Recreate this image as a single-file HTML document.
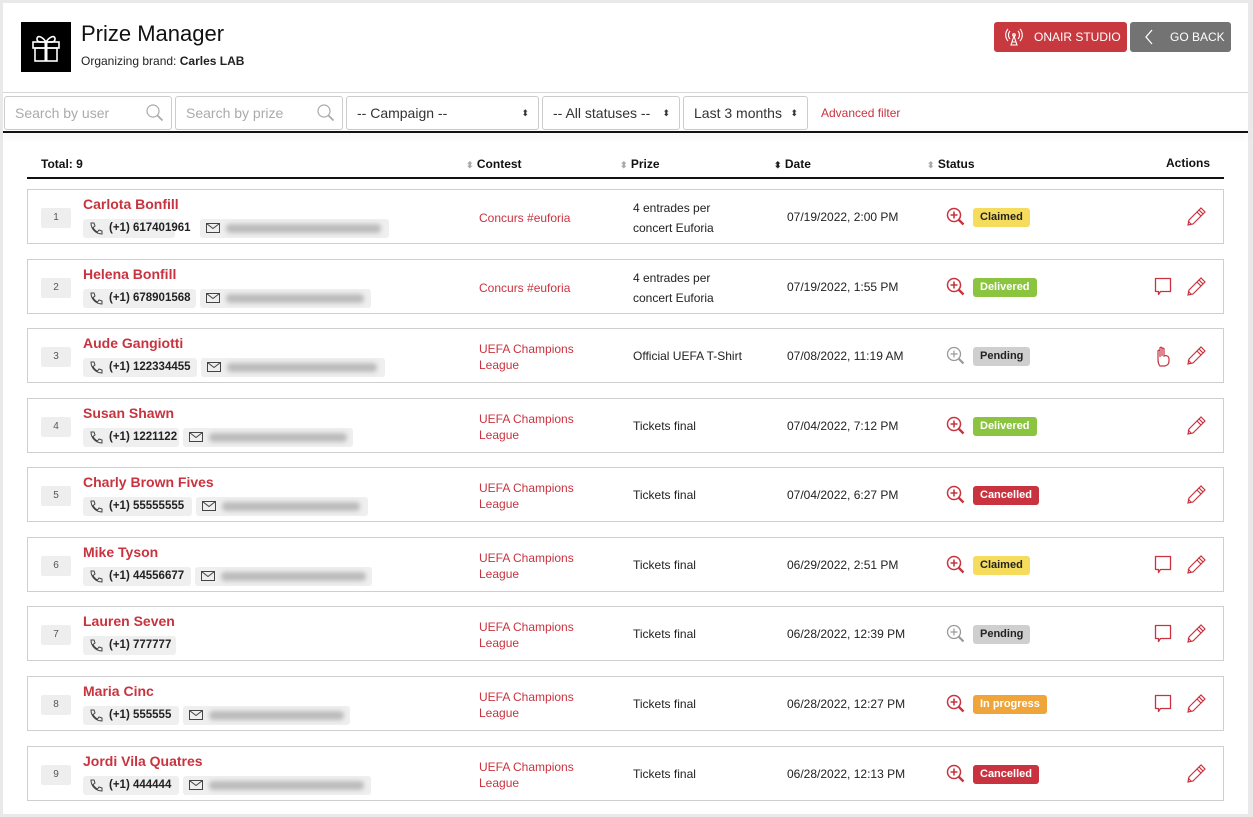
<!DOCTYPE html>
<html><head><meta charset="utf-8">
<style>
*{box-sizing:border-box;margin:0;padding:0}
body{width:1253px;height:817px;background:#e9e9e9;font-family:"Liberation Sans",sans-serif;position:relative;overflow:hidden;color:#222}
.page{position:absolute;left:3px;top:3px;width:1245px;height:811px;background:#fff}
.abs{position:absolute}
.row{position:absolute;left:27px;width:1197px;height:55px;border:1px solid #cfcfcf;background:#fff}
.num{position:absolute;left:13px;top:18px;width:30px;height:20px;background:#eee;border-radius:2px;font-size:10px;color:#555;text-align:center;line-height:20px}
.name{position:absolute;left:55px;top:6px;font-size:14px;font-weight:bold;color:#c8333f;white-space:nowrap}
.pill{position:absolute;top:29px;height:19px;background:#efefef;border-radius:3px;font-size:11.5px;font-weight:bold;line-height:19px;white-space:nowrap}
.pill svg{position:absolute;left:6px;top:3px}
.pill span{position:absolute;left:26px}
.blur{position:absolute;top:5px;height:9px;background:#bbb;filter:blur(2.5px);border-radius:4px}
.contest{position:absolute;left:451px;font-size:12px;color:#c8333f;line-height:16px}
.prize{position:absolute;left:605px;font-size:12px;color:#222;line-height:20px}
.date{position:absolute;left:759px;top:20px;font-size:12px;color:#222}
.mag{position:absolute;left:918px;top:17px}
.badge{position:absolute;left:945px;top:18px;height:19px;line-height:19px;padding:0 7px;border-radius:3px;font-size:11px;font-weight:bold}
.claimed{background:#f6dc5c;color:#222}
.deliv{background:#8bc43f;color:#fff}
.pend{background:#cfcfcf;color:#222}
.canc{background:#c8333f;color:#fff}
.prog{background:#f0a53a;color:#fff}
.pen{position:absolute;left:1157px;top:15px}
.cmt{position:absolute;left:1126px;top:17px}
.hdr{position:absolute;top:157px;font-size:12px;font-weight:bold;color:#111}
.sel{position:absolute;top:96px;height:34px;border:1px solid #ccc;border-radius:3px;font-size:14px;line-height:32px;padding-left:10px;color:#333}
.sel .ar{position:absolute;right:9px;top:0;font-size:9px}
</style></head><body>
<div class="page"></div>
<div class="abs" style="left:21px;top:22px;width:50px;height:50px;background:#000">
<svg width="50" height="50" viewBox="0 0 50 50"><g fill="none" stroke="#fff" stroke-width="1.6"><rect x="12" y="20" width="26" height="6"/><rect x="14" y="26" width="22" height="13"/><line x1="25" y1="20" x2="25" y2="39" stroke-width="3"/><path d="M25 20c-4-6-9-7-9-3s5 3 9 3c4 0 9 1 9-3s-5-3-9 3"/></g></svg></div>
<div class="abs" style="left:81px;top:21px;font-size:22px;color:#111">Prize Manager</div>
<div class="abs" style="left:81px;top:54px;font-size:12px;color:#222">Organizing brand: <b>Carles LAB</b></div>
<div class="abs" style="left:994px;top:22px;width:133px;height:30px;background:#c8393f;border-radius:3px;color:#fff;font-size:12px;line-height:30px;padding-left:40px">ONAIR STUDIO
<svg class="abs" style="left:10px;top:6px" width="20" height="18" viewBox="0 0 20 18"><g fill="none" stroke="#fff" stroke-width="1.1"><path d="M6 3a6 6 0 0 0 0 8M14 3a6 6 0 0 1 0 8M4 1a9 9 0 0 0 0 12M16 1a9 9 0 0 1 0 12"/><circle cx="10" cy="7" r="1.3"/><path d="M10 8l-3 9h6zM8 14h4"/></g></svg></div>
<div class="abs" style="left:1130px;top:22px;width:101px;height:30px;background:#737373;border-radius:3px;color:#fff;font-size:12px;line-height:30px;padding-left:40px">GO BACK
<svg class="abs" style="left:14px;top:7px" width="10" height="16"><path d="M8 1L2 8l6 7" fill="none" stroke="#fff" stroke-width="1.3"/></svg></div>
<div class="abs" style="left:3px;top:92px;width:1245px;height:1px;background:#d6d6d6"></div>
<div class="sel" style="left:4px;width:168px;color:#aaa">Search by user<svg class="abs" style="right:7px;top:7px" width="18" height="18"><circle cx="7" cy="7" r="6" fill="none" stroke="#aaa" stroke-width="1.2"/><path d="M11.5 11.5l5 5" stroke="#aaa" stroke-width="1.8"/></svg></div>
<div class="sel" style="left:175px;width:168px;color:#aaa">Search by prize<svg class="abs" style="right:7px;top:7px" width="18" height="18"><circle cx="7" cy="7" r="6" fill="none" stroke="#aaa" stroke-width="1.2"/><path d="M11.5 11.5l5 5" stroke="#aaa" stroke-width="1.8"/></svg></div>
<div class="sel" style="left:346px;width:193px">-- Campaign --<span class="ar">⬍</span></div>
<div class="sel" style="left:542px;width:138px">-- All statuses --<span class="ar">⬍</span></div>
<div class="sel" style="left:683px;width:125px">Last 3 months<span class="ar">⬍</span></div>
<div class="abs" style="left:821px;top:106px;font-size:12px;color:#c8333f">Advanced filter</div>
<div class="abs" style="left:3px;top:131px;width:1245px;height:2px;background:#111;box-shadow:0 3px 8px rgba(0,0,0,.12)"></div>
<div class="hdr" style="left:41px">Total: 9</div>
<div class="hdr" style="left:466px"><span style="color:#aaa;font-size:9px">⬍</span> Contest</div>
<div class="hdr" style="left:620px"><span style="color:#aaa;font-size:9px">⬍</span> Prize</div>
<div class="hdr" style="left:774px"><span style="color:#222;font-size:9px">⬍</span> Date</div>
<div class="hdr" style="left:927px"><span style="color:#aaa;font-size:9px">⬍</span> Status</div>
<div class="hdr" style="left:1166px;top:156px">Actions</div>
<div class="abs" style="left:27px;top:177px;width:1197px;height:2px;background:#111"></div>

<svg width="0" height="0" style="position:absolute">
<defs>
<g id="ph"><path d="M2 1l3 0 1 3-2 1.5c1 2 2.5 3.5 4.5 4.5L10 8l3 1 0 3c-6 0-11-5-11-11z" fill="none" stroke="#444" stroke-width="1"/></g>
<g id="ml"><rect x="0.5" y="1.5" width="13" height="9" fill="none" stroke="#444" stroke-width="1"/><path d="M0.5 1.5l6.5 5 6.5-5" fill="none" stroke="#444" stroke-width="1"/></g>
<g id="magr"><circle cx="8" cy="8" r="6.5" fill="none" stroke="#c8333f" stroke-width="1.5"/><path d="M8 4.5v7M4.5 8h7" stroke="#c8333f" stroke-width="1.6"/><path d="M12.5 12.5l5 5" stroke="#c8333f" stroke-width="2.4"/></g>
<g id="magg"><circle cx="8" cy="8" r="6.5" fill="none" stroke="#999" stroke-width="1.3"/><path d="M8 4.5v7M4.5 8h7" stroke="#999" stroke-width="1.2"/><path d="M12.5 12.5l5 5" stroke="#999" stroke-width="2.2"/></g>
<g id="pn"><g fill="none" stroke="#c8333f" stroke-width="1.2"><path d="M4 15l10-10 4 4-10 10-5 1z"/><path d="M12 7l4 4M3 16l3 3M14 5l2-2 4 4-2 2"/></g></g>
<g id="cm"><path d="M1.5 1.5h15v13h-10l-2 3v-3h-3z" fill="none" stroke="#c8333f" stroke-width="1.3" stroke-linejoin="round"/></g>
</defs></svg>

<div class="row" style="top:189px"><div class="num">1</div><div class="name">Carlota Bonfill</div>
<div class="pill" style="left:55px;width:92px"><svg width="15" height="14"><use href="#ph"/></svg><span>(+1) 617401961</span></div>
<div class="pill" style="left:172px;width:189px"><svg width="15" height="12"><use href="#ml"/></svg><div class="blur" style="left:26px;width:155px"></div></div>
<div class="contest" style="top:20px">Concurs #euforia</div><div class="prize" style="top:8px">4 entrades per<br>concert Euforia</div>
<div class="date">07/19/2022, 2:00 PM</div><svg class="mag" width="20" height="20"><use href="#magr"/></svg><div class="badge claimed">Claimed</div>
<svg class="pen" width="24" height="24"><use href="#pn"/></svg></div>

<div class="row" style="top:259px"><div class="num">2</div><div class="name">Helena Bonfill</div>
<div class="pill" style="left:55px;width:113px"><svg width="15" height="14"><use href="#ph"/></svg><span>(+1) 678901568</span></div>
<div class="pill" style="left:172px;width:171px"><svg width="15" height="12"><use href="#ml"/></svg><div class="blur" style="left:26px;width:138px"></div></div>
<div class="contest" style="top:20px">Concurs #euforia</div><div class="prize" style="top:8px">4 entrades per<br>concert Euforia</div>
<div class="date">07/19/2022, 1:55 PM</div><svg class="mag" width="20" height="20"><use href="#magr"/></svg><div class="badge deliv">Delivered</div>
<svg class="cmt" width="20" height="20"><use href="#cm"/></svg><svg class="pen" width="24" height="24"><use href="#pn"/></svg></div>

<div class="row" style="top:328px"><div class="num">3</div><div class="name">Aude Gangiotti</div>
<div class="pill" style="left:55px;width:114px"><svg width="15" height="14"><use href="#ph"/></svg><span>(+1) 122334455</span></div>
<div class="pill" style="left:173px;width:184px"><svg width="15" height="12"><use href="#ml"/></svg><div class="blur" style="left:26px;width:150px"></div></div>
<div class="contest" style="top:12px">UEFA Champions<br>League</div><div class="prize" style="top:17px">Official UEFA T-Shirt</div>
<div class="date">07/08/2022, 11:19 AM</div><svg class="mag" width="20" height="20"><use href="#magg"/></svg><div class="badge pend">Pending</div>
<svg class="cmt" width="20" height="22" viewBox="0 0 20 22"><path d="M6 20c-2-2-2-5-2-8V5c0-1 2-1 2 0v6V2c0-1 2-1 2 0v8V3c0-1 2-1 2 0v7c2-1 5 0 5 3v2c0 3-2 5-5 5z" fill="none" stroke="#c8333f" stroke-width="1.2"/></svg>
<svg class="pen" width="24" height="24"><use href="#pn"/></svg></div>

<div class="row" style="top:398px"><div class="num">4</div><div class="name">Susan Shawn</div>
<div class="pill" style="left:55px;width:96px"><svg width="15" height="14"><use href="#ph"/></svg><span>(+1) 1221122</span></div>
<div class="pill" style="left:155px;width:170px"><svg width="15" height="12"><use href="#ml"/></svg><div class="blur" style="left:26px;width:138px"></div></div>
<div class="contest" style="top:12px">UEFA Champions<br>League</div><div class="prize" style="top:17px">Tickets final</div>
<div class="date">07/04/2022, 7:12 PM</div><svg class="mag" width="20" height="20"><use href="#magr"/></svg><div class="badge deliv">Delivered</div>
<svg class="pen" width="24" height="24"><use href="#pn"/></svg></div>

<div class="row" style="top:467px"><div class="num">5</div><div class="name">Charly Brown Fives</div>
<div class="pill" style="left:55px;width:109px"><svg width="15" height="14"><use href="#ph"/></svg><span>(+1) 55555555</span></div>
<div class="pill" style="left:168px;width:172px"><svg width="15" height="12"><use href="#ml"/></svg><div class="blur" style="left:26px;width:138px"></div></div>
<div class="contest" style="top:12px">UEFA Champions<br>League</div><div class="prize" style="top:17px">Tickets final</div>
<div class="date">07/04/2022, 6:27 PM</div><svg class="mag" width="20" height="20"><use href="#magr"/></svg><div class="badge canc">Cancelled</div>
<svg class="pen" width="24" height="24"><use href="#pn"/></svg></div>

<div class="row" style="top:537px"><div class="num">6</div><div class="name">Mike Tyson</div>
<div class="pill" style="left:55px;width:108px"><svg width="15" height="14"><use href="#ph"/></svg><span>(+1) 44556677</span></div>
<div class="pill" style="left:167px;width:177px"><svg width="15" height="12"><use href="#ml"/></svg><div class="blur" style="left:26px;width:145px"></div></div>
<div class="contest" style="top:12px">UEFA Champions<br>League</div><div class="prize" style="top:17px">Tickets final</div>
<div class="date">06/29/2022, 2:51 PM</div><svg class="mag" width="20" height="20"><use href="#magr"/></svg><div class="badge claimed">Claimed</div>
<svg class="cmt" width="20" height="20"><use href="#cm"/></svg><svg class="pen" width="24" height="24"><use href="#pn"/></svg></div>

<div class="row" style="top:606px"><div class="num">7</div><div class="name">Lauren Seven</div>
<div class="pill" style="left:55px;width:93px"><svg width="15" height="14"><use href="#ph"/></svg><span>(+1) 777777</span></div>
<div class="contest" style="top:12px">UEFA Champions<br>League</div><div class="prize" style="top:17px">Tickets final</div>
<div class="date">06/28/2022, 12:39 PM</div><svg class="mag" width="20" height="20"><use href="#magg"/></svg><div class="badge pend">Pending</div>
<svg class="cmt" width="20" height="20"><use href="#cm"/></svg><svg class="pen" width="24" height="24"><use href="#pn"/></svg></div>

<div class="row" style="top:676px"><div class="num">8</div><div class="name">Maria Cinc</div>
<div class="pill" style="left:55px;width:96px"><svg width="15" height="14"><use href="#ph"/></svg><span>(+1) 555555</span></div>
<div class="pill" style="left:155px;width:167px"><svg width="15" height="12"><use href="#ml"/></svg><div class="blur" style="left:26px;width:135px"></div></div>
<div class="contest" style="top:12px">UEFA Champions<br>League</div><div class="prize" style="top:17px">Tickets final</div>
<div class="date">06/28/2022, 12:27 PM</div><svg class="mag" width="20" height="20"><use href="#magr"/></svg><div class="badge prog">In progress</div>
<svg class="cmt" width="20" height="20"><use href="#cm"/></svg><svg class="pen" width="24" height="24"><use href="#pn"/></svg></div>

<div class="row" style="top:746px"><div class="num">9</div><div class="name">Jordi Vila Quatres</div>
<div class="pill" style="left:55px;width:96px"><svg width="15" height="14"><use href="#ph"/></svg><span>(+1) 444444</span></div>
<div class="pill" style="left:155px;width:188px"><svg width="15" height="12"><use href="#ml"/></svg><div class="blur" style="left:26px;width:155px"></div></div>
<div class="contest" style="top:12px">UEFA Champions<br>League</div><div class="prize" style="top:17px">Tickets final</div>
<div class="date">06/28/2022, 12:13 PM</div><svg class="mag" width="20" height="20"><use href="#magr"/></svg><div class="badge canc">Cancelled</div>
<svg class="pen" width="24" height="24"><use href="#pn"/></svg></div>
</body></html>
